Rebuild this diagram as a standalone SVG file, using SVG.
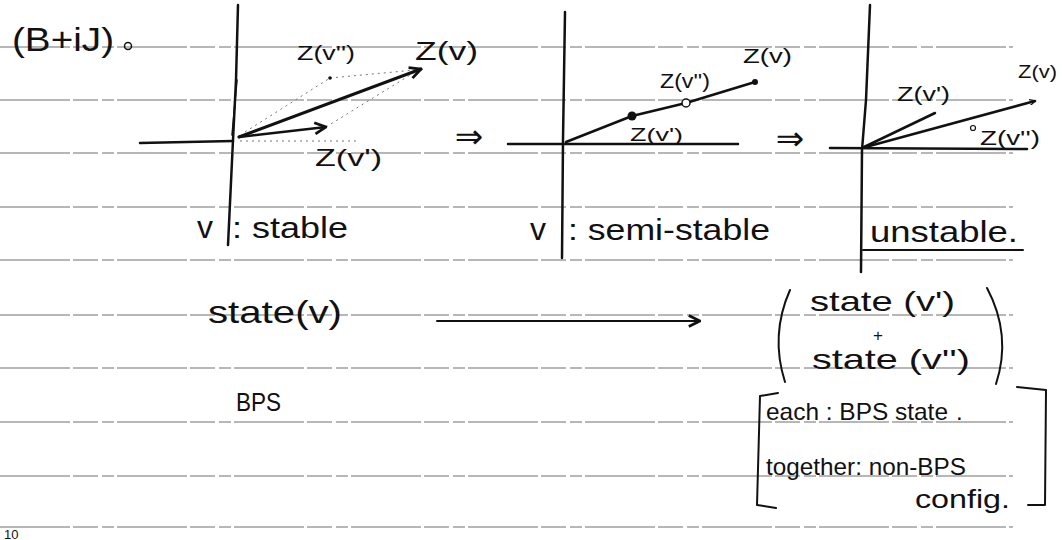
<svg xmlns="http://www.w3.org/2000/svg" width="1062" height="540" viewBox="0 0 1062 540">
  <defs>
    <style>
      .rule { stroke: #707070; stroke-width: 1.2; fill: none; stroke-dasharray: 70 3 25 4 12 3; }
      .ink { stroke: #111; fill: none; stroke-linecap: round; stroke-linejoin: round; }
      .dot { stroke: #777; fill: none; stroke-width: 1; stroke-dasharray: 2 4; }
      .hw { font-family: "Liberation Sans", "DejaVu Sans", sans-serif; fill: #111; }
    </style>
    <marker id="open" viewBox="0 0 10 10" refX="9" refY="5" markerWidth="6" markerHeight="6" orient="auto" markerUnits="userSpaceOnUse">
      <path d="M0,0 L10,5 L0,10" fill="none" stroke="#111" stroke-width="2"/>
    </marker>
    <marker id="head" viewBox="0 0 10 10" refX="9" refY="5" markerWidth="14" markerHeight="14" orient="auto" markerUnits="userSpaceOnUse">
      <path d="M1,1 L9,5 L1,9" fill="none" stroke="#111" stroke-width="2"/>
    </marker>
  </defs>
  <rect width="1062" height="540" fill="#fff"/>

  <g id="ruled-lines">
    <line class="rule" x1="0" y1="47" x2="1013" y2="47"/>
    <line class="rule" x1="0" y1="100" x2="1013" y2="100"/>
    <line class="rule" x1="0" y1="153" x2="1013" y2="153"/>
    <line class="rule" x1="0" y1="207" x2="1013" y2="207"/>
    <line class="rule" x1="0" y1="260" x2="1013" y2="260"/>
    <line class="rule" x1="0" y1="315" x2="1013" y2="315"/>
    <line class="rule" x1="0" y1="368" x2="1013" y2="368"/>
    <line class="rule" x1="0" y1="422" x2="1013" y2="422"/>
    <line class="rule" x1="0" y1="476" x2="1013" y2="476"/>
    <line class="rule" x1="0" y1="527" x2="1013" y2="527"/>
  </g>

  <g id="title">
    <text class="hw" x="12" y="51" font-size="34" textLength="102" lengthAdjust="spacingAndGlyphs">(B+iJ)</text>
    <circle cx="128" cy="46" r="3.5" fill="none" stroke="#111" stroke-width="1.5"/>
  </g>

  <g id="panel-stable">
    <path class="ink" d="M238,5 L236,80 L233,140 L228,245" stroke-width="2.5"/>
    <path class="ink" d="M237,80 L232,135" stroke-width="1.5"/>
    <line class="ink" x1="140" y1="143" x2="233" y2="141" stroke-width="2.5"/>
    <line class="dot" x1="240" y1="141" x2="360" y2="141"/>
    <line class="dot" x1="245" y1="132" x2="330" y2="78"/>
    <line class="dot" x1="330" y1="78" x2="415" y2="70"/>
    <line class="dot" x1="326" y1="127" x2="415" y2="72"/>
    <circle cx="330" cy="78" r="1.8" fill="#111"/>
    <line class="ink" x1="239" y1="137" x2="421" y2="69" stroke-width="3" marker-end="url(#head)"/>
    <line class="ink" x1="239" y1="137" x2="326" y2="127" stroke-width="2.5" marker-end="url(#head)"/>
    <text class="hw" x="297" y="60" font-size="20" textLength="58" lengthAdjust="spacingAndGlyphs">Z(v'')</text>
    <text class="hw" x="415" y="60" font-size="26" textLength="63" lengthAdjust="spacingAndGlyphs">Z(v)</text>
    <text class="hw" x="315" y="166" font-size="24" textLength="67" lengthAdjust="spacingAndGlyphs">Z(v')</text>
    <text class="hw" x="197" y="238" font-size="32">v</text>
    <text class="hw" x="232" y="238" font-size="30" textLength="116" lengthAdjust="spacingAndGlyphs">: stable</text>
  </g>

  <g id="panel-semistable">
    <path class="ink" d="M565,12 L563,140 L562,258" stroke-width="2.5"/>
    <line class="ink" x1="508" y1="144" x2="738" y2="144" stroke-width="2.5"/>
    <polyline class="ink" points="566,142 632,116 686,103 755,82" stroke-width="2.5"/>
    <circle cx="632" cy="116" r="4.5" fill="#111"/>
    <circle cx="686" cy="103" r="4" fill="#fff" stroke="#111" stroke-width="1.5"/>
    <circle cx="755" cy="82" r="3" fill="#111"/>
    <text class="hw" x="660" y="88" font-size="20" textLength="50" lengthAdjust="spacingAndGlyphs">Z(v'')</text>
    <text class="hw" x="630" y="141" font-size="18" textLength="53" lengthAdjust="spacingAndGlyphs">Z(v')</text>
    <text class="hw" x="743" y="63" font-size="20" textLength="49" lengthAdjust="spacingAndGlyphs">Z(v)</text>
    <text class="hw" x="530" y="240" font-size="32">v</text>
    <text class="hw" x="568" y="240" font-size="30" textLength="202" lengthAdjust="spacingAndGlyphs">: semi-stable</text>
  </g>

  <g id="panel-unstable">
    <path class="ink" d="M870,5 L866,100 L862,150 L861,272" stroke-width="2.5"/>
    <line class="ink" x1="830" y1="148" x2="1027" y2="149" stroke-width="2.5"/>
    <line class="ink" x1="862" y1="148" x2="935" y2="113" stroke-width="2.5"/>
    <line class="ink" x1="862" y1="148" x2="1035" y2="101" stroke-width="2.5" marker-end="url(#open)"/>
    <circle cx="973" cy="128" r="2.5" fill="none" stroke="#111" stroke-width="1.2"/>
    <text class="hw" x="897" y="101" font-size="20" textLength="53" lengthAdjust="spacingAndGlyphs">Z(v')</text>
    <text class="hw" x="1018" y="78" font-size="18" textLength="39" lengthAdjust="spacingAndGlyphs">Z(v)</text>
    <text class="hw" x="980" y="145" font-size="20" textLength="60" lengthAdjust="spacingAndGlyphs">Z(v'')</text>
    <text class="hw" x="870" y="242" font-size="30" textLength="148" lengthAdjust="spacingAndGlyphs">unstable.</text>
    <line class="ink" x1="863" y1="250" x2="1023" y2="250" stroke-width="2"/>
  </g>

  <g id="implies">
    <text class="hw" x="469" y="148" font-size="34" text-anchor="middle">⇒</text>
    <text class="hw" x="790" y="150" font-size="34" text-anchor="middle">⇒</text>
  </g>

  <g id="state-left">
    <text class="hw" x="208" y="323" font-size="32" textLength="134" lengthAdjust="spacingAndGlyphs">state(v)</text>
    <text class="hw" x="236" y="411" font-size="26" textLength="45" lengthAdjust="spacingAndGlyphs">BPS</text>
  </g>

  <g id="connectors">
    <line class="ink" x1="437" y1="321" x2="700" y2="321" stroke-width="2" marker-end="url(#head)"/>
  </g>

  <g id="state-right">
    <path class="ink" d="M790,290 Q770,335 785,382" stroke-width="2"/>
    <path class="ink" d="M987,288 Q1012,335 996,384" stroke-width="2"/>
    <text class="hw" x="810" y="311" font-size="28" textLength="145" lengthAdjust="spacingAndGlyphs">state (v')</text>
    <text class="hw" x="878" y="341" font-size="17" text-anchor="middle">+</text>
    <text class="hw" x="812" y="369" font-size="28" textLength="158" lengthAdjust="spacingAndGlyphs">state (v'')</text>
  </g>

  <g id="note">
    <path class="ink" d="M778,393 L760,396 L757,505 L776,508" stroke-width="2"/>
    <path class="ink" d="M1017,387 L1046,390 L1045,505 L1028,505" stroke-width="2"/>
    <text class="hw" x="766" y="420" font-size="24" textLength="182" lengthAdjust="spacingAndGlyphs">each : BPS state</text>
    <text class="hw" x="956" y="420" font-size="24">.</text>
    <text class="hw" x="766" y="475" font-size="24" textLength="200" lengthAdjust="spacingAndGlyphs">together: non-BPS</text>
    <text class="hw" x="915" y="508" font-size="26" textLength="95" lengthAdjust="spacingAndGlyphs">config.</text>
  </g>

  <g id="page-number">
    <text class="hw" x="4" y="539" font-size="13">10</text>
  </g>
</svg>
